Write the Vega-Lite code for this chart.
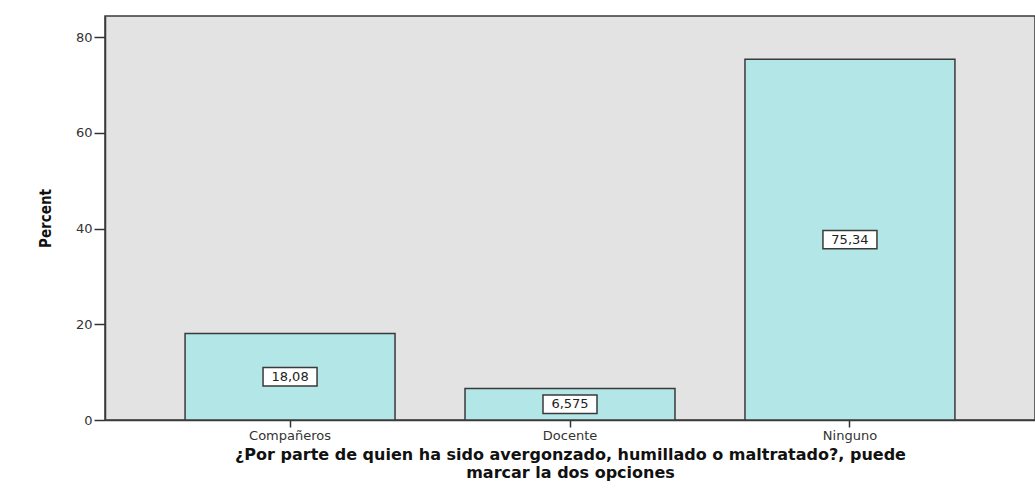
{
  "$schema": "https://vega.github.io/schema/vega-lite/v6.json",
  "autosize": "none",
  "width": 930,
  "height": 404,
  "padding": {"left": 105, "top": 16, "right": 0, "bottom": 74},
  "background": "white",
  "config": {
    "view": {"fill": "#e3e3e3", "stroke": "#3a3a3a", "strokeWidth": 1.5}
  },
  "data": {
    "values": [
      {"cat": "Compañeros", "Percent": 18.08, "label": "18,08"},
      {"cat": "Docente", "Percent": 6.575, "label": "6,575"},
      {"cat": "Ninguno", "Percent": 75.34, "label": "75,34"}
    ]
  },
  "transform": [{"calculate": "datum.Percent / 2", "as": "mid"}],
  "encoding": {
    "x": {
      "field": "cat",
      "type": "nominal",
      "sort": null,
      "scale": {"paddingInner": 0.25, "paddingOuter": 0.286},
      "axis": {
        "title": ["¿Por parte de quien ha sido avergonzado, humillado o maltratado?, puede", "marcar la dos opciones"],
        "titleFont": "DejaVu Sans",
        "titleFontWeight": "bold",
        "titleFontSize": 16,
        "titleLineHeight": 18,
        "titleColor": "#111",
        "titlePadding": 4,
        "labelAngle": 0,
        "labelFont": "DejaVu Sans",
        "labelFontSize": 13,
        "labelColor": "#333",
        "labelPadding": 2,
        "tickSize": 7,
        "tickColor": "#333",
        "tickWidth": 1.5,
        "domainColor": "#3a3a3a",
        "domainWidth": 1.5
      }
    }
  },
  "layer": [
    {
      "mark": {"type": "bar", "fill": "#b3e6e6", "stroke": "#3a3a3a", "strokeWidth": 1.5},
      "encoding": {
        "y": {
          "field": "Percent",
          "type": "quantitative",
          "scale": {"domain": [0, 84.4], "nice": false},
          "axis": {
            "values": [0, 20, 40, 60, 80],
            "grid": false,
            "title": "Percent",
            "titleFont": "DejaVu Sans Condensed",
            "titleFontWeight": "bold",
            "titleFontSize": 15,
            "titleColor": "#111",
            "titlePadding": 22,
            "labelFont": "DejaVu Sans",
            "labelFontSize": 13,
            "labelColor": "#333",
            "labelPadding": 2,
            "tickSize": 11,
            "tickColor": "#333",
            "tickWidth": 1.5,
            "domainColor": "#3a3a3a",
            "domainWidth": 1.5
          }
        }
      }
    },
    {
      "mark": {
        "type": "point",
        "shape": "M-1,-0.34H1V0.34H-1Z",
        "size": 2916,
        "filled": true,
        "fill": "white",
        "stroke": "#3a3a3a",
        "strokeWidth": 1.5,
        "opacity": 1
      },
      "encoding": {
        "y": {"field": "mid", "type": "quantitative"}
      }
    },
    {
      "mark": {"type": "text", "font": "DejaVu Sans", "fontSize": 13, "color": "#222", "baseline": "middle", "align": "center"},
      "encoding": {
        "y": {"field": "mid", "type": "quantitative"},
        "text": {"field": "label"}
      }
    }
  ]
}
